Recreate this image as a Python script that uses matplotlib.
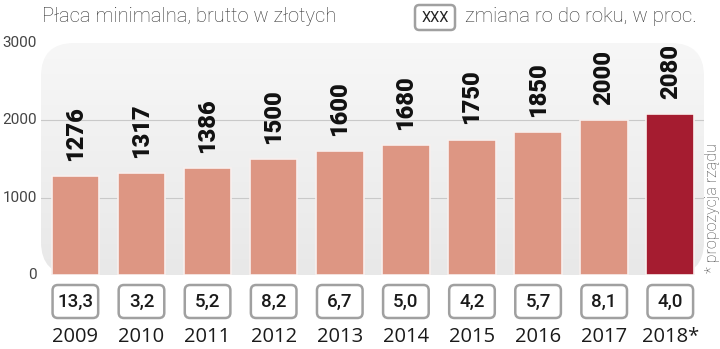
import matplotlib
matplotlib.use("Agg")
import numpy as np
import matplotlib.pyplot as plt
from matplotlib.patches import FancyBboxPatch
from matplotlib.transforms import blended_transform_factory

years = ["2009", "2010", "2011", "2012", "2013", "2014", "2015", "2016", "2017", "2018*"]
wages = [1276, 1317, 1386, 1500, 1600, 1680, 1750, 1850, 2000, 2080]
changes = ["13,3", "3,2", "5,2", "8,2", "6,7", "5,0", "4,2", "5,7", "8,1", "4,0"]
yticks = [0, 1000, 2000, 3000]

title = "Płaca minimalna, brutto w złotych"
legend_text = "zmiana ro do roku, w proc."
note = "* propozycja rządu"

BOLD = ["Roboto", "DejaVu Sans"]
LIGHT = ["Roboto", "DejaVu Sans"]
YEARF = ["Open Sans", "DejaVu Sans"]

fig = plt.figure(figsize=(7.2, 3.49), dpi=100)
W, H = 720, 349
ax = fig.add_axes([41 / W, 1 - 275 / H, (704 - 41) / W, (275 - 43) / H])
ax.axis("off")

# gray rounded background with gentle vertical gradient
bg = FancyBboxPatch((0, 0), 1, 1, boxstyle="round,pad=0,rounding_size=0.05",
                    transform=ax.transAxes, facecolor="none", edgecolor="none",
                    mutation_aspect=663 / 232, zorder=0, clip_on=False)
ax.add_patch(bg)
grad = np.linspace(0, 1, 256).reshape(-1, 1)
im = ax.imshow(grad, extent=[0, 1, 0, 1], transform=ax.transAxes, aspect="auto",
               cmap=matplotlib.colors.LinearSegmentedColormap.from_list(
                   "g", ["#f7f7f7", "#e8e8e8"]), origin="upper", zorder=0)
im.set_clip_path(bg)
ax.set_xlim(-0.52, 9.51)
ax.set_ylim(0, 3000)
for yv in yticks[1:3]:
    ax.axhline(yv, color="#c9c9c9", lw=0.8, zorder=1)

colors = ["#dd9683"] * 9 + ["#a51c30"]
x = list(range(len(years)))
ax.bar(x, wages, width=0.72, color=colors, edgecolor="#f8f0ee", linewidth=1.2, zorder=2)

for xi, v in zip(x, wages):
    ax.annotate(str(v), (xi, v), xytext=(0, 11), textcoords="offset points",
                rotation=90, ha="center", va="bottom",
                fontsize=17, fontweight="heavy", family=BOLD, color="#111111", zorder=3)

for yv in yticks:
    fig.text(37 / W, 1 - (275 - yv / 3000 * 232) / H, str(yv), ha="right", va="center",
             fontsize=11, family=LIGHT, color="#444444")

tr = blended_transform_factory(ax.transData, fig.transFigure)
bw = 0.69
for xi, c, yr in zip(x, changes, years):
    box = FancyBboxPatch((xi - bw / 2, 1 - 318 / H), bw, 33 / H,
                         boxstyle="round,pad=0,rounding_size=0.08",
                         transform=tr, facecolor="white", edgecolor="#a0a0a0",
                         linewidth=1.8, mutation_aspect=(1 / H) / (1 / 66.1),
                         clip_on=False, zorder=3)
    fig.add_artist(box)
    fig.text(xi, 1 - 301.5 / H, c, transform=tr, ha="center", va="center",
             fontsize=13.5, fontweight="medium", family=LIGHT, color="#1a1a1a", zorder=4)
    fig.text(xi, 1 - 337 / H, yr, transform=tr, ha="center", va="center",
             fontsize=14.5, family=YEARF, color="#1a1a1a", zorder=4)

fig.text(42 / W, 1 - 17 / H, title, ha="left", va="center", fontsize=14.5,
         family=LIGHT, fontweight="light", color="#333333")

lb = FancyBboxPatch((415 / W, 1 - 30 / H), 40 / W, 25 / H,
                    boxstyle="round,pad=0,rounding_size=0.006",
                    transform=fig.transFigure, facecolor="white", edgecolor="#a0a0a0",
                    linewidth=1.8, mutation_aspect=W / H)
fig.add_artist(lb)
fig.text(435 / W, 1 - 17.5 / H, "XXX", ha="center", va="center", fontsize=10.5,
         family=LIGHT, color="#222222")
fig.text(465 / W, 1 - 17 / H, legend_text, ha="left", va="center", fontsize=14.7,
         family=LIGHT, fontweight="light", color="#333333")

fig.text(712 / W, 1 - 208 / H, note, rotation=90, ha="center", va="center",
         fontsize=11.5, family=LIGHT, fontweight="light", color="#444444")

fig.savefig("out.png", dpi=100)
